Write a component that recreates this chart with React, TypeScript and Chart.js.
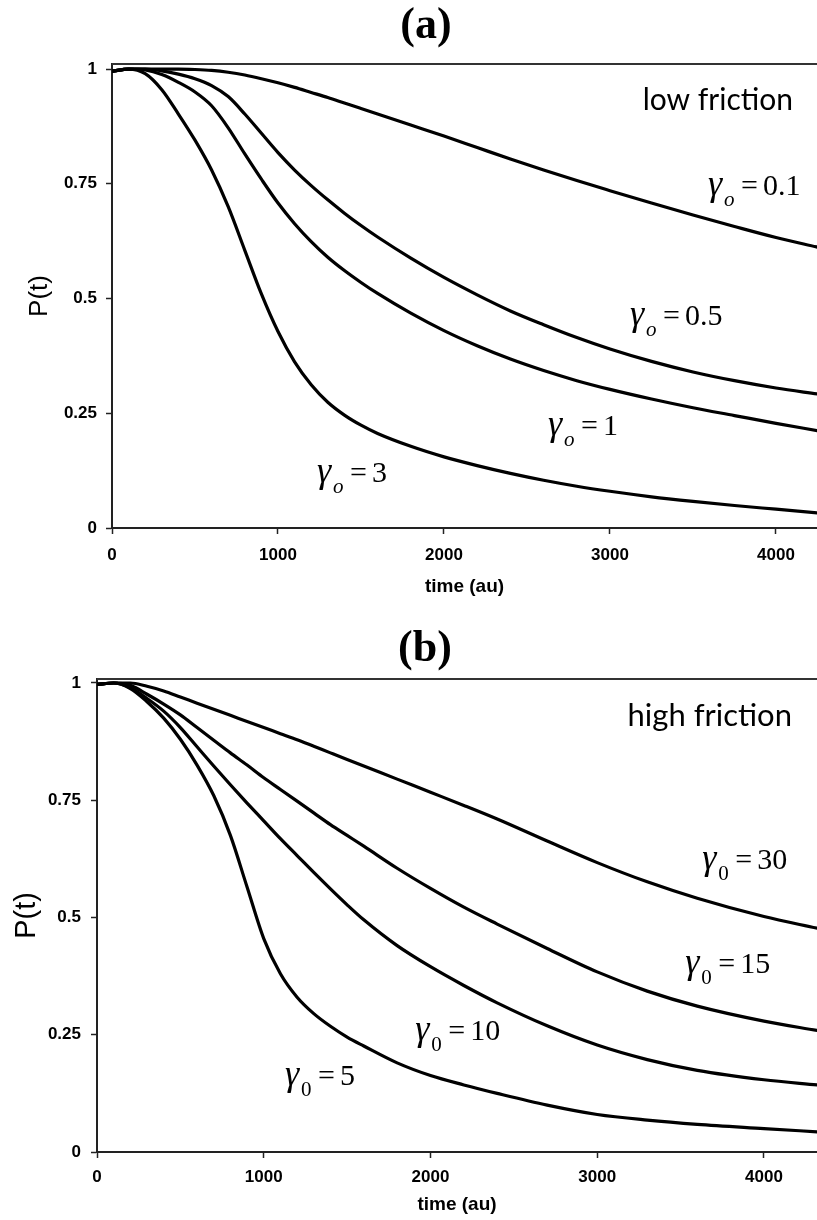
import React, { useEffect, useRef } from 'react';
import { Chart, registerables } from 'chart.js';

Chart.register(...registerables);

// ---------- shared axis ticks ----------
const X_TICKS = [0, 1000, 2000, 3000, 4000];
const Y_TICKS = [0, 0.25, 0.5, 0.75, 1];

// ---------- panel (a): low friction ----------
const TIME_A = [0, 100, 200, 300, 400, 500, 600, 700, 800, 900, 1000, 1100, 1200, 1300, 1400, 1500, 1600, 1800, 2000, 2200, 2400, 2600, 2800, 3000, 3250, 3500, 3750, 4000, 4250];
const P_GAMMA_0_1 = [0.995, 1.0, 1.0, 1.0, 1.0, 0.999, 0.997, 0.993, 0.987, 0.979, 0.970, 0.960, 0.949, 0.938, 0.926, 0.914, 0.902, 0.878, 0.854, 0.829, 0.804, 0.780, 0.757, 0.735, 0.708, 0.682, 0.657, 0.633, 0.612];
const P_GAMMA_0_5 = [0.995, 1.0, 1.0, 0.996, 0.989, 0.979, 0.964, 0.940, 0.902, 0.860, 0.818, 0.780, 0.746, 0.715, 0.686, 0.659, 0.634, 0.588, 0.546, 0.508, 0.473, 0.443, 0.415, 0.390, 0.363, 0.340, 0.321, 0.305, 0.292];
const P_GAMMA_1 = [0.995, 1.0, 0.998, 0.988, 0.971, 0.950, 0.920, 0.872, 0.815, 0.760, 0.708, 0.663, 0.624, 0.590, 0.561, 0.535, 0.511, 0.468, 0.430, 0.397, 0.368, 0.343, 0.321, 0.302, 0.281, 0.262, 0.245, 0.228, 0.212];
const P_GAMMA_3 = [0.995, 1.0, 0.990, 0.955, 0.902, 0.845, 0.780, 0.700, 0.605, 0.510, 0.428, 0.362, 0.312, 0.274, 0.246, 0.224, 0.206, 0.178, 0.155, 0.136, 0.119, 0.104, 0.091, 0.080, 0.068, 0.058, 0.049, 0.041, 0.033];
const LABELS_A = ['0.1', '0.5', '1', '3'];
const LABEL_T_A = [3590, 3120, 2627, 1235];
const LABEL_P_A = [0.725, 0.442, 0.203, 0.100];

// ---------- panel (b): high friction ----------
const TIME_B = [0, 100, 200, 300, 400, 500, 600, 700, 800, 900, 1000, 1100, 1200, 1300, 1400, 1500, 1600, 1800, 2000, 2200, 2400, 2700, 3000, 3300, 3600, 4000, 4320];
const P_GAMMA_30 = [0.997, 1.0, 1.0, 0.993, 0.983, 0.970, 0.957, 0.944, 0.931, 0.918, 0.905, 0.892, 0.879, 0.865, 0.851, 0.837, 0.823, 0.795, 0.767, 0.739, 0.710, 0.663, 0.617, 0.576, 0.541, 0.502, 0.477];
const P_GAMMA_15 = [0.997, 1.0, 0.995, 0.976, 0.955, 0.932, 0.905, 0.878, 0.851, 0.825, 0.798, 0.773, 0.748, 0.723, 0.698, 0.675, 0.652, 0.605, 0.562, 0.522, 0.486, 0.434, 0.384, 0.343, 0.311, 0.279, 0.259];
const P_GAMMA_10 = [0.997, 1.0, 0.990, 0.967, 0.940, 0.905, 0.864, 0.823, 0.783, 0.744, 0.706, 0.668, 0.632, 0.596, 0.561, 0.527, 0.495, 0.440, 0.395, 0.355, 0.318, 0.269, 0.228, 0.197, 0.174, 0.154, 0.143];
const P_GAMMA_5 = [0.997, 1.0, 0.988, 0.960, 0.925, 0.880, 0.825, 0.760, 0.675, 0.565, 0.455, 0.380, 0.330, 0.295, 0.268, 0.245, 0.226, 0.190, 0.163, 0.143, 0.125, 0.100, 0.080, 0.068, 0.059, 0.050, 0.043];
const LABELS_B = ['30', '15', '10', '5'];
const LABEL_T_B = [3630, 3528, 1908, 1128];
const LABEL_P_B = [0.603, 0.382, 0.239, 0.143];

const SANS = '"Liberation Sans", Arial, sans-serif';
const SERIF = '"Liberation Serif", "Times New Roman", serif';

const annotationPlugin = {
  id: 'gammaLabels',
  afterDatasetsDraw(chart: any, _args: any, opts: any) {
    const { ctx, chartArea, scales } = chart;
    ctx.save();
    // top frame line
    ctx.strokeStyle = '#333';
    ctx.lineWidth = 2;
    ctx.beginPath();
    ctx.moveTo(chartArea.left, chartArea.top);
    ctx.lineTo(chartArea.right, chartArea.top);
    ctx.stroke();

    ctx.fillStyle = '#000';
    ctx.textBaseline = 'alphabetic';
    // regime note
    ctx.textAlign = 'right';
    ctx.font = `${opts.noteSize}px Lato, "Open Sans", sans-serif`;
    ctx.fillText(opts.note, chartArea.right - opts.noteInsetX, chartArea.top + opts.noteInsetY);

    // gamma labels
    ctx.textAlign = 'left';
    const texts: string[] = opts.texts;
    for (let i = 0; i < texts.length; i++) {
      const x = scales.x.getPixelForValue(opts.ts[i]);
      const y = scales.y.getPixelForValue(opts.ps[i]);
      ctx.font = `italic 36px ${SERIF}`;
      ctx.fillText('\u03B3', x, y);
      ctx.font = `${opts.subItalic ? 'italic ' : ''}21px ${SERIF}`;
      ctx.fillText(opts.sub, x + 16, y + 11);
      ctx.font = `30px ${SERIF}`;
      ctx.fillText('=', x + 33, y);
      ctx.fillText(texts[i], x + 55, y);
    }
    ctx.restore();
  },
};

function makeConfig(p: any) {
  const lineDs = (t: number[], v: number[]) => ({
    data: t.map((tt, i) => ({ x: tt, y: v[i] })),
    borderColor: '#000',
    borderWidth: 3.2,
    pointRadius: 0,
    fill: false,
    cubicInterpolationMode: 'monotone',
  });
  const tickFont = { family: SANS, size: 17, weight: 'bold' as const };
  const gridOpts = {
    drawOnChartArea: false,
    drawTicks: true,
    tickLength: 6,
    tickColor: '#222',
    tickWidth: 1.5,
  };
  return {
    type: 'line',
    data: { datasets: p.series.map((v: number[]) => lineDs(p.time, v)) },
    plugins: [annotationPlugin],
    options: {
      animation: false,
      responsive: false,
      devicePixelRatio: 1,
      layout: { padding: { left: p.padLeft, right: 0, top: 0, bottom: 0 } },
      plugins: {
        legend: { display: false },
        tooltip: { enabled: false },
        title: {
          display: true,
          text: p.title,
          color: '#000',
          font: { family: SERIF, size: 44, weight: 'bold', lineHeight: 1 },
          padding: { top: p.titlePadTop, bottom: p.titlePadBottom },
        },
        gammaLabels: {
          note: p.note,
          noteSize: p.noteSize,
          noteInsetX: p.noteInsetX,
          noteInsetY: p.noteInsetY,
          texts: p.labels,
          ts: p.labelT,
          ps: p.labelP,
          sub: p.sub,
          subItalic: p.subItalic,
        },
      },
      scales: {
        x: {
          type: 'linear',
          min: 0,
          max: p.xMax,
          afterBuildTicks: (s: any) => { s.ticks = X_TICKS.map((v) => ({ value: v })); },
          afterFit: (s: any) => { s.height = p.xAxisHeight; },
          ticks: { color: '#000', font: tickFont, padding: p.xTickPad, maxRotation: 0, autoSkip: false, callback: (v: any) => String(v) },
          grid: gridOpts,
          border: { display: true, color: '#222', width: 2 },
          title: {
            display: true,
            text: 'time (au)',
            color: '#000',
            font: { family: SANS, size: 19, weight: 'bold' },
            padding: { top: 0, bottom: p.xTitlePad },
          },
        },
        y: {
          type: 'linear',
          min: 0,
          max: p.yMax,
          afterBuildTicks: (s: any) => { s.ticks = Y_TICKS.map((v) => ({ value: v })); },
          afterFit: (s: any) => { s.width = p.yAxisWidth; },
          ticks: { color: '#000', font: tickFont, padding: p.yTickPad, autoSkip: false, callback: (v: any) => String(v) },
          grid: gridOpts,
          border: { display: true, color: '#222', width: 2 },
          title: {
            display: true,
            text: 'P(t)',
            color: '#000',
            font: { family: SANS, size: p.yTitleSize, weight: 'normal' },
            padding: { top: p.yTitlePad, bottom: 0 },
          },
        },
      },
    },
  };
}

const PANEL_A = {
  title: '(a)',
  time: TIME_A,
  series: [P_GAMMA_0_1, P_GAMMA_0_5, P_GAMMA_1, P_GAMMA_3],
  labels: LABELS_A,
  labelT: LABEL_T_A,
  labelP: LABEL_P_A,
  sub: 'o',
  subItalic: true,
  note: 'low friction',
  noteSize: 30,
  noteInsetX: 24,
  noteInsetY: 46,
  padLeft: 35,
  titlePadTop: 5,
  titlePadBottom: 15,
  xMax: 4247,
  yMax: 1.011,
  xAxisHeight: 82,
  yAxisWidth: 77,
  xTickPad: 11,
  yTickPad: 9,
  xTitlePad: 11.6,
  yTitleSize: 26,
  yTitlePad: -10.6,
};

const PANEL_B = {
  title: '(b)',
  time: TIME_B,
  series: [P_GAMMA_30, P_GAMMA_15, P_GAMMA_10, P_GAMMA_5],
  labels: LABELS_B,
  labelT: LABEL_T_B,
  labelP: LABEL_P_B,
  sub: '0',
  subItalic: false,
  note: 'high friction',
  noteSize: 31,
  noteInsetX: 25,
  noteInsetY: 47,
  padLeft: 33,
  titlePadTop: 18,
  titlePadBottom: 7,
  xMax: 4318,
  yMax: 1.0085,
  xAxisHeight: 68,
  yAxisWidth: 64,
  xTickPad: 9,
  yTickPad: 10,
  xTitlePad: 3.6,
  yTitleSize: 29,
  yTitlePad: -23.4,
};

function Panel({ cfg }: { cfg: any }) {
  const ref = useRef<HTMLCanvasElement | null>(null);
  useEffect(() => {
    if (!ref.current) return;
    const chart = new Chart(ref.current, makeConfig(cfg) as any);
    return () => chart.destroy();
  }, [cfg]);
  return <canvas ref={ref} width={817} height={610} style={{ display: 'block', width: 817, height: 610 }} />;
}

export default function App() {
  return (
    <div style={{ position: 'absolute', left: 0, top: 0, width: 817, height: 1220, background: '#fff', overflow: 'hidden' }}>
      <Panel cfg={PANEL_A} />
      <Panel cfg={PANEL_B} />
    </div>
  );
}
